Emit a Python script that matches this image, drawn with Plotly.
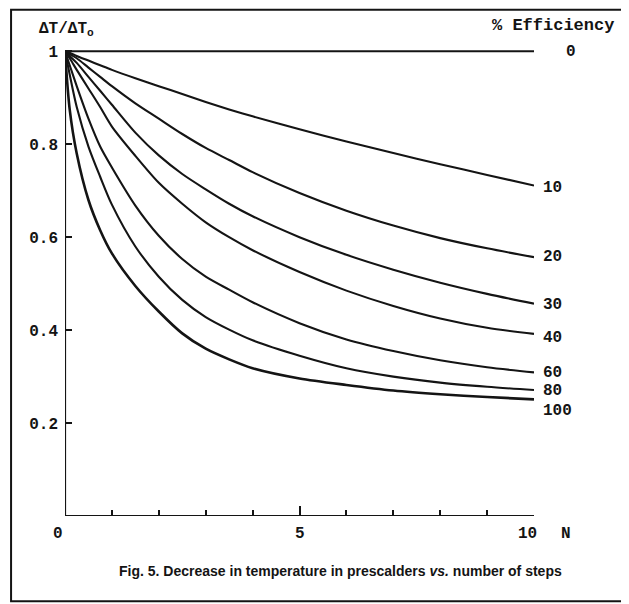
import plotly.graph_objects as go

# ---------------- data ----------------
steps = [0, 0.1, 0.25, 0.5, 0.75, 1, 1.5, 2, 2.5, 3, 3.5, 4, 5, 6, 7, 8, 9, 10]

eff_labels = ["0", "10", "20", "30", "40", "60", "80", "100"]

ratio_eff0 = [1.0] * 18
ratio_eff10 = [1.0, 0.997, 0.99, 0.98, 0.97, 0.96, 0.942, 0.925, 0.908, 0.891, 0.875, 0.86, 0.832, 0.806, 0.781, 0.757, 0.734, 0.711]
ratio_eff20 = [1.0, 0.994, 0.985, 0.965, 0.945, 0.925, 0.888, 0.855, 0.822, 0.792, 0.766, 0.74, 0.695, 0.657, 0.625, 0.598, 0.576, 0.557]
ratio_eff30 = [1.0, 0.99, 0.975, 0.945, 0.915, 0.885, 0.825, 0.776, 0.736, 0.703, 0.672, 0.645, 0.6, 0.562, 0.53, 0.502, 0.478, 0.457]
ratio_eff40 = [1.0, 0.985, 0.96, 0.92, 0.88, 0.838, 0.775, 0.717, 0.672, 0.632, 0.6, 0.572, 0.525, 0.485, 0.452, 0.425, 0.405, 0.392]
ratio_eff60 = [1.0, 0.97, 0.925, 0.855, 0.795, 0.75, 0.668, 0.603, 0.553, 0.515, 0.487, 0.46, 0.415, 0.38, 0.355, 0.335, 0.32, 0.309]
ratio_eff80 = [1.0, 0.95, 0.88, 0.795, 0.73, 0.67, 0.58, 0.515, 0.465, 0.428, 0.401, 0.378, 0.345, 0.318, 0.3, 0.287, 0.278, 0.271]
ratio_eff100 = [1.0, 0.875, 0.78, 0.68, 0.615, 0.565, 0.495, 0.44, 0.393, 0.36, 0.337, 0.318, 0.296, 0.282, 0.27, 0.262, 0.256, 0.251]

series = [ratio_eff0, ratio_eff10, ratio_eff20, ratio_eff30, ratio_eff40,
          ratio_eff60, ratio_eff80, ratio_eff100]

y_ticks = [0.2, 0.4, 0.6, 0.8, 1.0]
y_tick_text = ["0.2", "0.4", "0.6", "0.8", "1"]
x_tick_text = ["0", "5", "10"]

# ---------------- figure ----------------
INK = "#141414"
MONO = "Liberation Mono"

fig = go.Figure()
for lab, ys in zip(eff_labels, series):
    fig.add_trace(go.Scatter(
        x=steps, y=ys, mode="lines", name=lab,
        line=dict(color=INK, width=2.6 if lab == "100" else 2.1,
                  shape="spline", smoothing=0.8),
        showlegend=False, hoverinfo="skip"))

# curve-end labels (vertical positions offset so they don't collide)
label_pos = {"0": 0.998, "10": 0.705, "20": 0.558, "30": 0.455, "40": 0.384,
             "60": 0.308, "80": 0.268, "100": 0.227}
for lab in eff_labels:
    fig.add_annotation(x=10, y=label_pos[lab], xref="x", yref="y",
                       text=lab, showarrow=False, xanchor="left",
                       xshift=(30 if lab == "0" else 7),
                       font=dict(family=MONO, size=16, color=INK, weight="bold"))

# x tick labels
for val, txt, sh in zip([0, 5, 10], x_tick_text, [-7, 0, -7]):
    fig.add_annotation(x=val, y=0, xref="x", yref="y", text=txt,
                       showarrow=False, yanchor="top", yshift=-7, xshift=sh,
                       font=dict(family=MONO, size=16, color=INK, weight="bold"))
fig.add_annotation(x=10, y=0, xref="x", yref="y", text="N", showarrow=False,
                   yanchor="top", yshift=-7, xshift=32,
                   font=dict(family=MONO, size=16, color=INK, weight="bold"))

# axis title and legend heading
fig.add_annotation(x=-0.060, y=1.003, xref="paper", yref="paper",
                   text="ΔT/ΔT<sub>o</sub>", showarrow=False,
                   xanchor="left", yanchor="bottom",
                   font=dict(family=MONO, size=16, color=INK, weight="bold"))
fig.add_annotation(x=1.175, y=1.011, xref="paper", yref="paper",
                   text="% Efficiency", showarrow=False,
                   xanchor="right", yanchor="bottom",
                   font=dict(family=MONO, size=17, color=INK, weight="bold"))

# caption
fig.add_annotation(x=0.5, y=-0.116, xref="paper", yref="paper",
                   text="Fig. 5. Decrease in temperature in prescalders <i>vs.</i> number of steps",
                   showarrow=False, xanchor="center", yanchor="middle",
                   xshift=41,
                   font=dict(family="Liberation Sans", size=14, color=INK, weight="bold"))

# outer frame of the figure
fig.add_shape(type="rect", xref="paper", yref="paper",
              x0=-0.115, x1=1.19, y0=-0.18, y1=1.068,
              line=dict(color=INK, width=2))

# axes lines drawn in data coordinates
fig.add_shape(type="line", xref="x", yref="y", x0=0, x1=0, y0=0, y1=1,
              line=dict(color=INK, width=2.2))
fig.add_shape(type="line", xref="x", yref="y", x0=0, x1=10, y0=0, y1=0,
              line=dict(color=INK, width=2.2))

fig.update_xaxes(range=[0, 10], showline=False, showgrid=False, zeroline=False,
                 tickmode="array", tickvals=[5, 10], ticks="inside", ticklen=10,
                 tickwidth=2, tickcolor=INK, showticklabels=False,
                 minor=dict(tickmode="array", tickvals=[1, 2, 3, 4, 6, 7, 8, 9],
                            ticks="inside", ticklen=6, tickwidth=1.6, tickcolor=INK))
fig.update_yaxes(range=[0, 1.02], showline=False, showgrid=False, zeroline=False,
                 tickmode="array", tickvals=y_ticks, ticktext=y_tick_text,
                 ticks="inside", ticklen=7, tickwidth=2, tickcolor=INK,
                 ticklabelstandoff=6,
                 tickfont=dict(family=MONO, size=16, color=INK, weight="bold"))

# page body has an 8px margin, so the figure is 8px smaller than the window
fig.update_layout(width=621, height=596,
                  margin=dict(l=57, r=95, t=34, b=88),
                  paper_bgcolor="white", plot_bgcolor="white")

fig.write_html("out.html")
